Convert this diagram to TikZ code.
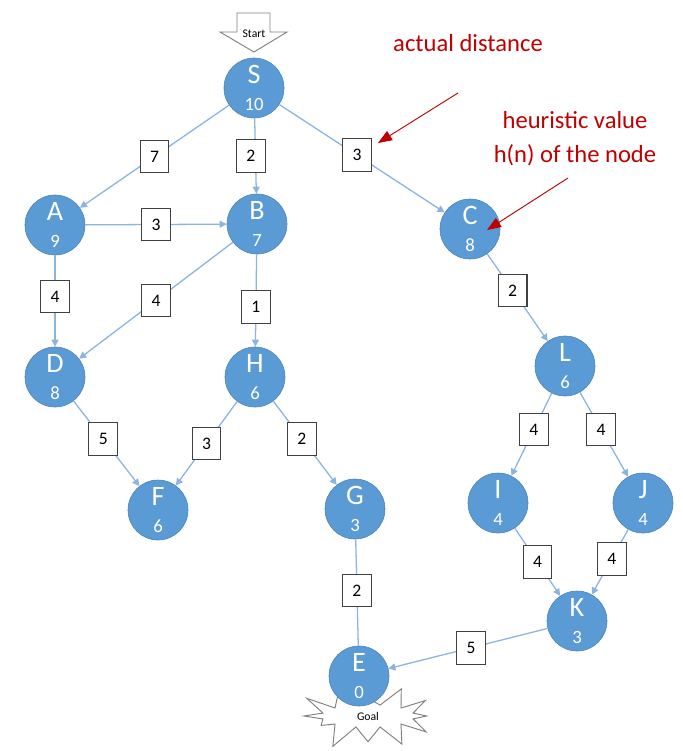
\documentclass[tikz,border=0pt]{standalone}
\usepackage{fontspec}
\setmainfont{Carlito}
\usetikzlibrary{arrows.meta,shapes.symbols}
\definecolor{nodeblue}{HTML}{5B9BD5}
\definecolor{edgeblue}{HTML}{8DB3E0}
\definecolor{notered}{HTML}{C00000}
\newcommand\hval[1]{{\fontsize{16}{16}\selectfont #1}}
\begin{document}
\begin{tikzpicture}[x=0.03cm,y=-0.03cm,
    state/.style={circle,fill=nodeblue,draw=nodeblue!85!black,line width=0.5pt,
      minimum size=1.8cm,inner sep=0pt,text=white,align=center,
      font=\fontsize{24}{23}\selectfont},
    edge/.style={draw=edgeblue,line width=1.1pt,-{Triangle[length=6pt,width=6pt]}},
    wt/.style={draw=black!75,fill=white,line width=0.9pt,minimum width=0.86cm,
      minimum height=0.98cm,inner sep=0pt,font=\fontsize{15}{15}\selectfont},
    note/.style={text=notered,align=center,font=\fontsize{21}{29}\selectfont},
    pointer/.style={draw=notered,line width=0.8pt,-{Triangle[length=12pt,width=9pt]}}]
  \useasboundingbox (0,0) rectangle (683,751);

  % start arrow
  \draw[black!50,fill=white,line width=0.8pt] (237,13) -- (270,13) -- (270,32) -- (287,32)
    -- (254,52) -- (220,32) -- (237,32) -- cycle;
  \node[font=\fontsize{10}{10}\selectfont] (start) at (254,34) {Start};

  % goal
  \node[starburst,starburst points=12,starburst point height=0.75cm,random starburst=23,
    draw=black!50,fill=white,line width=0.8pt,minimum width=4.3cm,minimum height=2.1cm,
    font=\fontsize{10}{10}\selectfont] (goal) at (368,716) {Goal};

  % states
  \node[state] (S) at (254,88) {S\\\hval{10}};
  \node[state] (A) at (55,225) {A\\\hval{9}};
  \node[state] (B) at (257,224) {B\\\hval{7}};
  \node[state] (C) at (470,229) {C\\\hval{8}};
  \node[state] (D) at (55,377) {D\\\hval{8}};
  \node[state] (H) at (255,377) {H\\\hval{6}};
  \node[state] (L) at (565,366) {L\\\hval{6}};
  \node[state] (F) at (158,510) {F\\\hval{6}};
  \node[state] (G) at (355,509) {G\\\hval{3}};
  \node[state] (I) at (498,503) {I\\\hval{4}};
  \node[state] (J) at (643,503) {J\\\hval{4}};
  \node[state] (K) at (577,621) {K\\\hval{3}};
  \node[state] (E) at (359,676) {E\\\hval{0}};

  % edges
  \draw[edge] (S) -- node[wt,pos=.5] {7} (A);
  \draw[edge] (S) -- node[wt,pos=.5,xshift=-4] {2} (B);
  \draw[edge] (S) -- node[wt,pos=.47] (sc) {3} (C);
  \draw[edge] (A) -- node[wt,pos=.5] {3} (B);
  \draw[edge] (A) -- node[wt,pos=.45] {4} (D);
  \draw[edge] (B) -- node[wt,pos=.5] {4} (D);
  \draw[edge] (B) -- node[wt,pos=.57] {1} (H);
  \draw[edge] (C) -- node[wt,pos=.42] {2} (L);
  \draw[edge] (D) -- node[wt,pos=.45] {5} (F);
  \draw[edge] (H) -- node[wt,pos=.5] {3} (F);
  \draw[edge] (H) -- node[wt,pos=.45] {2} (G);
  \draw[edge] (L) -- node[wt,pos=.44] {4} (I);
  \draw[edge] (L) -- node[wt,pos=.44] {4} (J);
  \draw[edge] (I) -- node[wt,pos=.5] {4} (K);
  \draw[edge] (J) -- node[wt,pos=.45] {4} (K);
  \draw[edge,-] (G) -- node[wt,pos=.48] {2} (E);
  \draw[edge] (K) -- node[wt,pos=.48] {5} (E);

  % notes
  \node[note] (dist) at (468,43) {actual distance};
  \node[note] (heur) at (575,139) {heuristic value\\h(n) of the node};
  \coordinate (d1) at (458,93);
  \coordinate (d2) at (378,143);
  \coordinate (h1) at (568,178);
  \coordinate (h2) at (487,230);
  \draw[pointer] (d1) -- (d2);
  \draw[pointer] (h1) -- (h2);
\end{tikzpicture}
\end{document}
